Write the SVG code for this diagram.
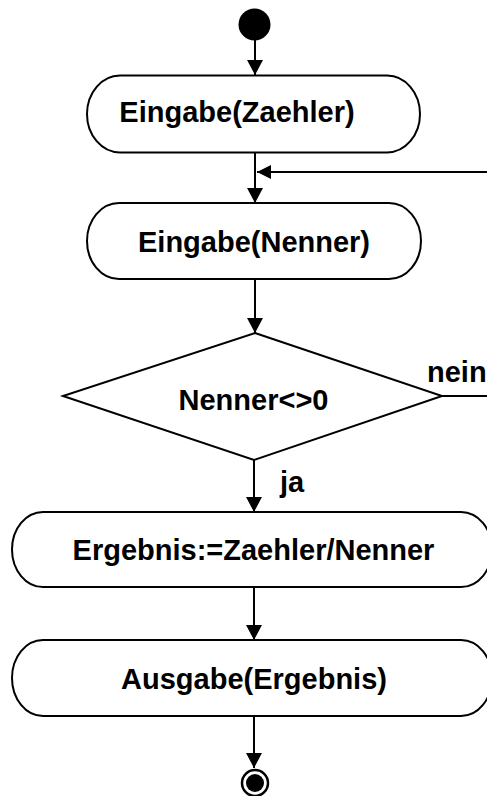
<svg xmlns="http://www.w3.org/2000/svg" width="487" height="796" viewBox="0 0 487 796">
<defs>
<style>
.shape{fill:#fff;stroke:#000;stroke-width:2}
.line{fill:none;stroke:#000;stroke-width:2}
.t{font-family:"Liberation Sans",Arial,sans-serif;font-weight:bold;font-size:29px;fill:#000}
.c{text-anchor:middle}
</style>
<marker id="arr" markerUnits="userSpaceOnUse" markerWidth="17" markerHeight="17" viewBox="0 0 17 17" refX="15" refY="8.5" orient="auto">
<path d="M0,0.5 L15,8.5 L0,16.5 Z" fill="#000"/>
</marker>
<marker id="arr2" markerUnits="userSpaceOnUse" markerWidth="15" markerHeight="15" viewBox="0 0 15 15" refX="14" refY="7.5" orient="auto">
<path d="M0,0.5 L14,7.5 L0,14.5 Z" fill="#000"/>
</marker>
</defs>
<rect width="487" height="796" fill="#fff"/>
<g id="connectors">
<line class="line" x1="255" y1="40" x2="255" y2="75" marker-end="url(#arr)"/>
<line class="line" x1="255" y1="152" x2="255" y2="203" marker-end="url(#arr)"/>
<line class="line" x1="255" y1="279" x2="255" y2="333" marker-end="url(#arr)"/>
<line class="line" x1="254" y1="460" x2="254" y2="512" marker-end="url(#arr)"/>
<line class="line" x1="254" y1="587" x2="254" y2="640" marker-end="url(#arr)"/>
<line class="line" x1="254" y1="716" x2="254" y2="768" marker-end="url(#arr)"/>
<path class="line" d="M442,396 L500,396 L500,172 L257,172" marker-end="url(#arr2)"/>
<text class="t" x="427" y="382">nein</text>
<text class="t" x="280" y="492">ja</text>
</g>
<g id="start">
<circle cx="254.5" cy="24.5" r="16" fill="#000"/>
</g>
<g id="eingabe-zaehler">
<rect class="shape" x="87" y="75.5" width="333" height="77" rx="33" ry="38.5"/>
<text class="t c" x="237" y="122">Eingabe(Zaehler)</text>
</g>
<g id="eingabe-nenner">
<rect class="shape" x="87" y="203" width="334" height="76" rx="32" ry="38"/>
<text class="t c" x="254" y="252">Eingabe(Nenner)</text>
</g>
<g id="decision">
<polygon class="shape" points="255,333 442,396 254,460 63,396"/>
<text class="t c" x="253.5" y="410">Nenner&lt;&gt;0</text>
</g>
<g id="ergebnis">
<rect class="shape" x="12" y="512" width="480" height="75" rx="31" ry="37.5"/>
<text class="t c" x="253.5" y="560">Ergebnis:=Zaehler/Nenner</text>
</g>
<g id="ausgabe">
<rect class="shape" x="12" y="640" width="480" height="76" rx="31" ry="38"/>
<text class="t c" x="254" y="689">Ausgabe(Ergebnis)</text>
</g>
<g id="end">
<circle cx="255" cy="783" r="13" fill="#fff" stroke="#000" stroke-width="2.5"/>
<circle cx="255" cy="783" r="9" fill="#000"/>
</g>
</svg>
